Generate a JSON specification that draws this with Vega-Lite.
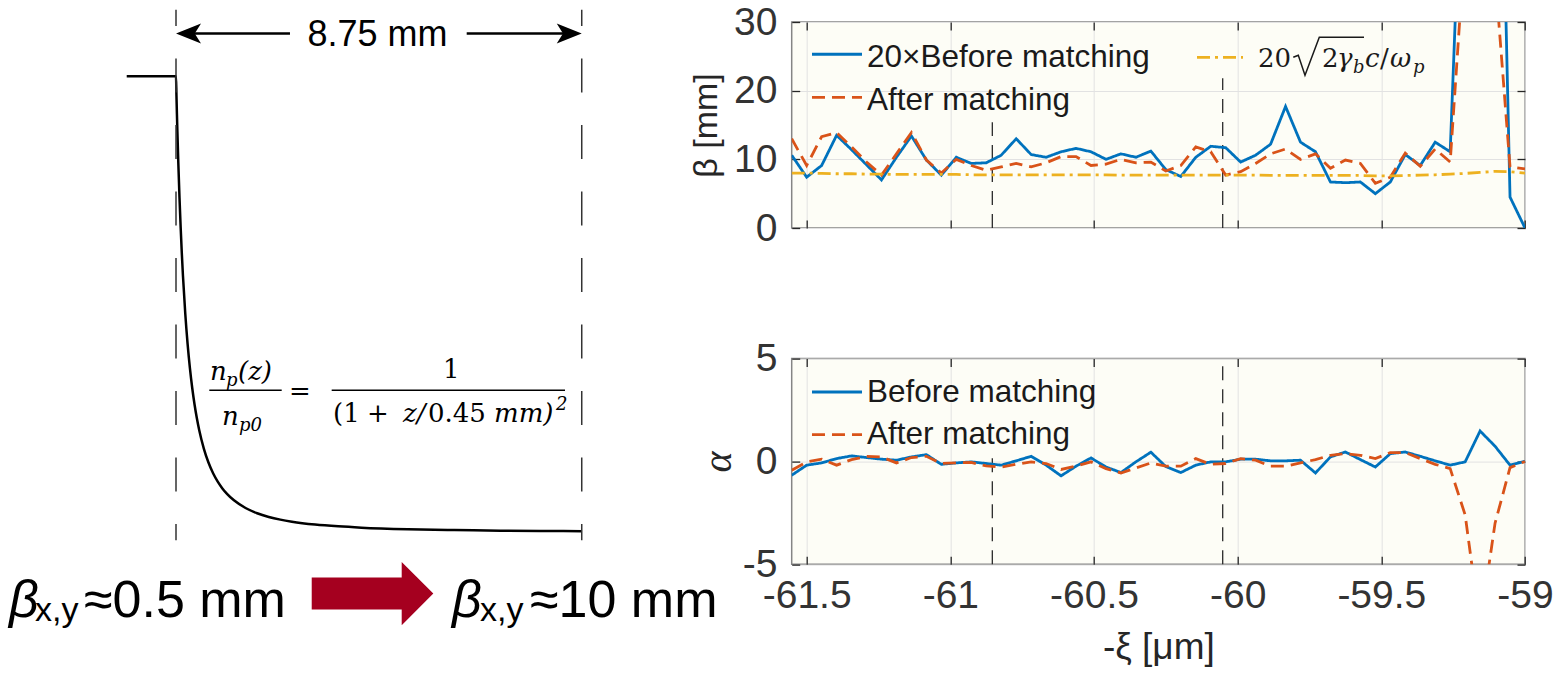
{
  "$schema": "https://vega.github.io/schema/vega-lite/v6.json",
  "padding": {"left": 0, "top": 2, "right": 0, "bottom": 0},
  "background": "white",
  "bounds": "flush",
  "spacing": 51.7,
  "hconcat": [
    {
      "width": 740,
      "height": 620,
      "view": {"stroke": null, "fill": null},
      "encoding": {
        "x": {"field": "z", "type": "quantitative", "scale": {"domain": [-3.7956, 12.163], "nice": false, "zero": false}, "axis": null},
        "y": {"field": "n", "type": "quantitative", "scale": {"domain": [-0.24057, 1.11908], "nice": false, "zero": false}, "axis": null}
      },
      "layer": [
        {
          "data": {"values": [
            {"z": -1.063, "n": 1}, {"z": 0, "n": 1}, {"z": 0.01, "n": 0.957}, {"z": 0.02, "n": 0.9167}, {"z": 0.03, "n": 0.8789},
            {"z": 0.05, "n": 0.81}, {"z": 0.075, "n": 0.7347}, {"z": 0.1, "n": 0.6694}, {"z": 0.125, "n": 0.6125}, {"z": 0.15, "n": 0.5625}, {"z": 0.2, "n": 0.4793},
            {"z": 0.25, "n": 0.4133}, {"z": 0.3, "n": 0.36}, {"z": 0.35, "n": 0.3164}, {"z": 0.4, "n": 0.2803}, {"z": 0.45, "n": 0.25}, {"z": 0.5, "n": 0.2244},
            {"z": 0.6, "n": 0.1837}, {"z": 0.7, "n": 0.1531}, {"z": 0.8, "n": 0.1296}, {"z": 0.9, "n": 0.1111}, {"z": 1.0, "n": 0.0963}, {"z": 1.1, "n": 0.0843},
            {"z": 1.25, "n": 0.0701}, {"z": 1.5, "n": 0.0533}, {"z": 1.75, "n": 0.0418}, {"z": 2.0, "n": 0.0337}, {"z": 2.25, "n": 0.0278}, {"z": 2.5, "n": 0.0233},
            {"z": 3.0, "n": 0.017}, {"z": 3.5, "n": 0.013}, {"z": 4.0, "n": 0.0102}, {"z": 5.0, "n": 0.0068}, {"z": 6.0, "n": 0.0049},
            {"z": 7.0, "n": 0.0036}, {"z": 8.0, "n": 0.0028}, {"z": 8.75, "n": 0.0024}
          ]},
          "mark": {"type": "line", "color": "#000000", "strokeWidth": 2.5, "interpolate": "monotone"}
        },
        {
          "data": {"values": [{"z": 0, "n": 1.146, "n2": -0.0175}, {"z": 8.75, "n": 1.146, "n2": -0.0175}]},
          "mark": {"type": "rule", "color": "#333333", "strokeWidth": 1.5, "strokeDash": [34, 32.5], "strokeDashOffset": 17.8},
          "encoding": {"y2": {"field": "n2"}}
        },
        {
          "data": {"values": [{"z": 0.3, "z2": 2.458, "n": 1.0937}, {"z": 6.269, "z2": 8.45, "n": 1.0937}]},
          "mark": {"type": "rule", "color": "#000000", "strokeWidth": 2.5},
          "encoding": {"x2": {"field": "z2"}}
        },
        {
          "data": {"values": [{"z": 0, "n": 1.0937, "dir": "left"}, {"z": 8.75, "n": 1.0937, "dir": "right"}]},
          "mark": {"type": "point", "filled": true, "color": "#000000", "size": 625, "opacity": 1},
          "encoding": {"shape": {"field": "dir", "type": "nominal", "scale": {"domain": ["left", "right"], "range": ["M0,0L2,-0.8L1.5,0L2,0.8Z", "M0,0L-2,-0.8L-1.5,0L-2,0.8Z"]}, "legend": null}}
        },
        {
          "data": {"values": [{"z": 4.345, "n": 1.0658, "t": "8.75 mm"}]},
          "mark": {"type": "text", "font": "Liberation Sans", "fontSize": 36, "align": "center", "baseline": "alphabetic", "color": "#000000"},
          "encoding": {"text": {"field": "t"}}
        },
        {
          "data": {"values": [
            {"z": 0.7332, "n": 0.3333, "t": "n"}, {"z": 1.3371, "n": 0.3333, "t": "(z)"},
            {"z": 0.992, "n": 0.2346, "t": "n"}, {"z": 4.8954, "n": 0.2412, "t": "z/"}, {"z": 6.8579, "n": 0.2412, "t": "mm)"}
          ]},
          "mark": {"type": "text", "font": "DejaVu Serif", "fontStyle": "italic", "fontSize": 26, "align": "left", "baseline": "alphabetic", "color": "#000000"},
          "encoding": {"text": {"field": "t"}}
        },
        {
          "data": {"values": [
            {"z": 2.4369, "n": 0.2895, "t": "="}, {"z": 5.758, "n": 0.3377, "t": "1"},
            {"z": 3.3858, "n": 0.2412, "t": "(1"}, {"z": 4.119, "n": 0.2412, "t": "+"}, {"z": 5.4345, "n": 0.2412, "t": "0.45"}
          ]},
          "mark": {"type": "text", "font": "DejaVu Serif", "fontSize": 26, "align": "left", "baseline": "alphabetic", "color": "#000000"},
          "encoding": {"text": {"field": "t"}}
        },
        {
          "data": {"values": [
            {"z": 1.0783, "n": 0.3202, "t": "p"}, {"z": 1.3586, "n": 0.2215, "t": "p0"}, {"z": 8.1949, "n": 0.2675, "t": "2"}
          ]},
          "mark": {"type": "text", "font": "DejaVu Serif", "fontStyle": "italic", "fontSize": 18, "align": "left", "baseline": "alphabetic", "color": "#000000"},
          "encoding": {"text": {"field": "t"}}
        },
        {
          "data": {"values": [{"z": 0.7181, "z2": 2.2795, "n": 0.3114}, {"z": 3.3573, "z2": 8.3891, "n": 0.3114}]},
          "mark": {"type": "rule", "color": "#000000", "strokeWidth": 1.5},
          "encoding": {"x2": {"field": "z2"}}
        },
        {
          "data": {"values": [{"z": -3.601, "n": -0.1864, "t": "β"}, {"z": 5.952, "n": -0.1864, "t": "β"}]},
          "mark": {"type": "text", "font": "Liberation Sans", "fontStyle": "italic", "fontSize": 52, "align": "left", "baseline": "alphabetic", "color": "#000000"},
          "encoding": {"text": {"field": "t"}}
        },
        {
          "data": {"values": [{"z": -3.041, "n": -0.1952, "t": "x,y"}, {"z": 6.556, "n": -0.1952, "t": "x,y"}]},
          "mark": {"type": "text", "font": "Liberation Sans", "fontSize": 34, "align": "left", "baseline": "alphabetic", "color": "#000000"},
          "encoding": {"text": {"field": "t"}}
        },
        {
          "data": {"values": [{"z": -1.984, "n": -0.1864, "t": "≈0.5 mm"}, {"z": 7.634, "n": -0.1864, "t": "≈10 mm"}]},
          "mark": {"type": "text", "font": "Liberation Sans", "fontSize": 52, "align": "left", "baseline": "alphabetic", "color": "#000000"},
          "encoding": {"text": {"field": "t"}}
        },
        {
          "data": {"values": [{"z": 4.238, "n": -0.1344}]},
          "mark": {"type": "point", "filled": true, "color": "#a5001f", "opacity": 1, "size": 14787, "shape": "M-1,-0.263L0.48,-0.263L0.48,-0.52L1,0L0.48,0.52L0.48,0.263L-1,0.263Z"}
        }
      ]
    },
    {
      "vconcat": [
        {
          "width": 733.3,
          "height": 206,
          "encoding": {
            "x": {"field": "x", "type": "quantitative", "scale": {"domain": [-61.5521, -59], "nice": false, "zero": false}, "axis": null},
            "y": {"field": "v", "type": "quantitative", "scale": {"domain": [0, 30], "nice": false, "zero": false}, "axis": null}
          },
          "layer": [
            {
              "data": {"values": [{"x": -60.8539, "v": 0, "v2": 15.39}, {"x": -60.0521, "v": 0, "v2": 21.8}]},
              "mark": {"type": "rule", "color": "#2a2a2a", "strokeWidth": 1.3, "strokeDash": [14, 9]},
              "encoding": {"y2": {"field": "v2"}}
            },
            {
              "data": {"values": [
                {"x": -61.5521, "Before": 10.6, "After": 13.0, "Ref": 8.0},
                {"x": -61.5, "Before": 7.4, "After": 9.1, "Ref": 8.0},
                {"x": -61.4479, "Before": 9.1, "After": 13.3, "Ref": 7.95},
                {"x": -61.3958, "Before": 13.5, "After": 13.9, "Ref": 7.9},
                {"x": -61.3438, "Before": 11.4, "After": 11.8, "Ref": 7.9},
                {"x": -61.2917, "Before": 9.2, "After": 9.6, "Ref": 7.85},
                {"x": -61.2396, "Before": 7.0, "After": 7.7, "Ref": 7.85},
                {"x": -61.1875, "Before": 10.3, "After": 10.8, "Ref": 7.8},
                {"x": -61.1354, "Before": 13.4, "After": 13.9, "Ref": 7.8},
                {"x": -61.0833, "Before": 9.9, "After": 9.9, "Ref": 7.8},
                {"x": -61.0313, "Before": 7.7, "After": 8.0, "Ref": 7.8},
                {"x": -60.9792, "Before": 10.3, "After": 10.0, "Ref": 7.8},
                {"x": -60.9271, "Before": 9.4, "After": 9.1, "Ref": 7.75},
                {"x": -60.875, "Before": 9.5, "After": 8.4, "Ref": 7.75},
                {"x": -60.8229, "Before": 10.6, "After": 8.9, "Ref": 7.75},
                {"x": -60.7708, "Before": 13.0, "After": 9.4, "Ref": 7.75},
                {"x": -60.7188, "Before": 10.7, "After": 8.9, "Ref": 7.75},
                {"x": -60.6667, "Before": 10.3, "After": 9.5, "Ref": 7.75},
                {"x": -60.6146, "Before": 11.1, "After": 10.4, "Ref": 7.75},
                {"x": -60.5625, "Before": 11.6, "After": 10.4, "Ref": 7.75},
                {"x": -60.5104, "Before": 11.1, "After": 9.1, "Ref": 7.75},
                {"x": -60.4583, "Before": 10.0, "After": 9.3, "Ref": 7.75},
                {"x": -60.4063, "Before": 10.8, "After": 10.0, "Ref": 7.7},
                {"x": -60.3542, "Before": 10.3, "After": 9.5, "Ref": 7.7},
                {"x": -60.3021, "Before": 11.2, "After": 9.6, "Ref": 7.7},
                {"x": -60.25, "Before": 8.5, "After": 8.3, "Ref": 7.7},
                {"x": -60.1979, "Before": 7.5, "After": 9.1, "Ref": 7.7},
                {"x": -60.1458, "Before": 10.3, "After": 11.8, "Ref": 7.7},
                {"x": -60.0938, "Before": 11.9, "After": 11.1, "Ref": 7.7},
                {"x": -60.0417, "Before": 11.7, "After": 7.7, "Ref": 7.7},
                {"x": -59.9896, "Before": 9.6, "After": 8.2, "Ref": 7.7},
                {"x": -59.9375, "Before": 10.6, "After": 9.4, "Ref": 7.7},
                {"x": -59.8854, "Before": 12.2, "After": 10.8, "Ref": 7.65},
                {"x": -59.8333, "Before": 17.7, "After": 11.5, "Ref": 7.65},
                {"x": -59.7813, "Before": 12.5, "After": 10.0, "Ref": 7.65},
                {"x": -59.7292, "Before": 11.1, "After": 10.8, "Ref": 7.65},
                {"x": -59.6771, "Before": 6.7, "After": 8.7, "Ref": 7.65},
                {"x": -59.625, "Before": 6.6, "After": 9.9, "Ref": 7.65},
                {"x": -59.5729, "Before": 6.7, "After": 9.4, "Ref": 7.65},
                {"x": -59.5208, "Before": 5.0, "After": 6.5, "Ref": 7.6},
                {"x": -59.4688, "Before": 6.7, "After": 7.4, "Ref": 7.6},
                {"x": -59.4167, "Before": 10.7, "After": 10.9, "Ref": 7.65},
                {"x": -59.3646, "Before": 9.1, "After": 9.0, "Ref": 7.7},
                {"x": -59.3125, "Before": 12.5, "After": 11.5, "Ref": 7.75},
                {"x": -59.2604, "Before": 11.1, "After": 9.6, "Ref": 7.85},
                {"x": -59.2083, "Before": 68, "After": 42, "Ref": 7.95},
                {"x": -59.1563, "Before": 130, "After": 60, "Ref": 8.1},
                {"x": -59.1042, "Before": 100, "After": 37, "Ref": 8.25},
                {"x": -59.0521, "Before": 4.5, "After": 8.9, "Ref": 8.2},
                {"x": -59.0, "Before": 0, "After": 8.6, "Ref": 8.0}
              ]},
              "transform": [{"fold": ["Before", "After", "Ref"], "as": ["key", "v"]}],
              "mark": {"type": "line", "clip": true, "strokeWidth": 2.8},
              "encoding": {
                "x": {"field": "x", "type": "quantitative", "scale": {"domain": [-61.5521, -59], "nice": false, "zero": false},
                  "axis": {"orient": "bottom", "values": [-61.5, -61, -60.5, -60, -59.5, -59], "labels": false, "grid": true, "gridColor": "#e2e2e2", "gridWidth": 1, "title": null}},
                "y": {"field": "v", "type": "quantitative", "scale": {"domain": [0, 30], "nice": false, "zero": false},
                  "axis": {"orient": "left", "values": [0, 10, 20, 30], "grid": true, "gridColor": "#e2e2e2", "gridWidth": 1, "labelPadding": 22.7, "labelExpr": "'' + datum.value", "title": "β [mm]", "titlePadding": 10}},
                "color": {"field": "key", "type": "nominal", "scale": {"domain": ["Before", "After", "Ref"], "range": ["#0072BD", "#D95319", "#EDB120"]}, "legend": null},
                "strokeDash": {"field": "key", "type": "nominal", "scale": {"domain": ["Before", "After", "Ref"], "range": [[1, 0], [13, 7], [13, 5, 3, 5]]}, "legend": null}
              }
            },
            {
              "data": {"values": [
                {"x": -61.4815, "x2": -61.3074, "v": 25.3, "key": "Before"},
                {"x": -61.4815, "x2": -61.3074, "v": 19.03, "key": "After"},
                {"x": -60.1415, "x2": -59.9814, "v": 24.86, "key": "Ref"}
              ]},
              "mark": {"type": "rule", "strokeWidth": 2.8},
              "encoding": {
                "x2": {"field": "x2"},
                "color": {"field": "key", "type": "nominal", "scale": {"domain": ["Before", "After", "Ref"], "range": ["#0072BD", "#D95319", "#EDB120"]}, "legend": null},
                "strokeDash": {"field": "key", "type": "nominal", "scale": {"domain": ["Before", "After", "Ref"], "range": [[1, 0], [13, 7], [13, 5, 3, 5]]}, "legend": null}
              }
            },
            {
              "data": {"values": [
                {"x": -61.29, "v": 23.4, "t": "20×Before matching"},
                {"x": -61.29, "v": 17.14, "t": "After matching"}
              ]},
              "mark": {"type": "text", "font": "Liberation Sans", "fontSize": 31.5, "align": "left", "baseline": "alphabetic", "color": "#1a1a1a"},
              "encoding": {
                "text": {"field": "t"},
                "x": {"field": "x", "type": "quantitative", "scale": {"domain": [-61.5521, -59], "nice": false, "zero": false},
                  "axis": {"orient": "top", "values": [-61.5, -61, -60.5, -60, -59.5, -59], "labels": false, "grid": false, "title": null}},
                "y": {"field": "v", "type": "quantitative", "scale": {"domain": [0, 30], "nice": false, "zero": false},
                  "axis": {"orient": "right", "values": [0, 10, 20, 30], "labels": false, "grid": false, "title": null}}
              }
            },
            {
              "data": {"values": [
                {"x": -59.9292, "v": 23.4, "t": "20"}, {"x": -59.7065, "v": 23.4, "t": "2"}, {"x": -59.5046, "v": 23.4, "t": "/"}
              ]},
              "mark": {"type": "text", "font": "DejaVu Serif", "fontSize": 26, "align": "left", "baseline": "alphabetic", "color": "#1a1a1a"},
              "encoding": {"text": {"field": "t"}}
            },
            {
              "data": {"values": [
                {"x": -59.6543, "v": 23.4, "t": "γ"}, {"x": -59.5568, "v": 23.4, "t": "c"}, {"x": -59.4698, "v": 23.4, "t": "ω"}
              ]},
              "mark": {"type": "text", "font": "DejaVu Serif", "fontStyle": "italic", "fontSize": 26, "align": "left", "baseline": "alphabetic", "color": "#1a1a1a"},
              "encoding": {"text": {"field": "t"}}
            },
            {
              "data": {"values": [
                {"x": -59.5986, "v": 22.53, "t": "b"}, {"x": -59.3898, "v": 22.53, "t": "p"}
              ]},
              "mark": {"type": "text", "font": "DejaVu Serif", "fontStyle": "italic", "fontSize": 18, "align": "left", "baseline": "alphabetic", "color": "#1a1a1a"},
              "encoding": {"text": {"field": "t"}}
            },
            {
              "data": {"values": [
                {"x": -59.8064, "v": 24.86}, {"x": -59.789, "v": 25.16}, {"x": -59.7657, "v": 22.24}, {"x": -59.7159, "v": 27.78}, {"x": -59.5603, "v": 27.78}
              ]},
              "mark": {"type": "line", "color": "#1a1a1a", "strokeWidth": 1.5}
            }
          ],
          "resolve": {"axis": {"x": "independent", "y": "independent"}}
        },
        {
          "width": 733.3,
          "height": 205.7,
          "encoding": {
            "x": {"field": "x", "type": "quantitative", "scale": {"domain": [-61.5521, -59], "nice": false, "zero": false}, "axis": null},
            "y": {"field": "v", "type": "quantitative", "scale": {"domain": [-5, 5], "nice": false, "zero": false}, "axis": null}
          },
          "layer": [
            {
              "data": {"values": [{"x": -60.8539, "v": -5, "v2": 0.4}, {"x": -60.0521, "v": -5, "v2": 5}]},
              "mark": {"type": "rule", "color": "#2a2a2a", "strokeWidth": 1.3, "strokeDash": [14, 9]},
              "encoding": {"y2": {"field": "v2"}}
            },
            {
              "data": {"values": [
                {"x": -61.5521, "Before": -0.67, "After": -0.43},
                {"x": -61.5, "Before": -0.18, "After": -0.02},
                {"x": -61.4479, "Before": -0.07, "After": 0.11},
                {"x": -61.3958, "Before": 0.14, "After": -0.18},
                {"x": -61.3438, "Before": 0.27, "After": 0.09},
                {"x": -61.2917, "Before": 0.19, "After": 0.25},
                {"x": -61.2396, "Before": 0.11, "After": 0.22},
                {"x": -61.1875, "Before": 0.06, "After": -0.07},
                {"x": -61.1354, "Before": 0.22, "After": 0.19},
                {"x": -61.0833, "Before": 0.33, "After": 0.25},
                {"x": -61.0313, "Before": -0.14, "After": -0.1},
                {"x": -60.9792, "Before": -0.07, "After": -0.07},
                {"x": -60.9271, "Before": -0.02, "After": -0.05},
                {"x": -60.875, "Before": -0.1, "After": -0.22},
                {"x": -60.8229, "Before": -0.18, "After": -0.27},
                {"x": -60.7708, "Before": 0.03, "After": -0.14},
                {"x": -60.7188, "Before": 0.25, "After": -0.02},
                {"x": -60.6667, "Before": -0.18, "After": -0.1},
                {"x": -60.6146, "Before": -0.7, "After": -0.39},
                {"x": -60.5625, "Before": -0.23, "After": -0.23},
                {"x": -60.5104, "Before": 0.17, "After": -0.02},
                {"x": -60.4583, "Before": -0.27, "After": -0.35},
                {"x": -60.4063, "Before": -0.54, "After": -0.56},
                {"x": -60.3542, "Before": -0.02, "After": -0.32},
                {"x": -60.3021, "Before": 0.45, "After": -0.07},
                {"x": -60.25, "Before": -0.25, "After": -0.23},
                {"x": -60.1979, "Before": -0.54, "After": -0.23},
                {"x": -60.1458, "Before": -0.18, "After": 0.14},
                {"x": -60.0938, "Before": -0.02, "After": -0.14},
                {"x": -60.0417, "Before": -0.02, "After": -0.1},
                {"x": -59.9896, "Before": 0.11, "After": 0.14},
                {"x": -59.9375, "Before": 0.11, "After": 0.06},
                {"x": -59.8854, "Before": 0.03, "After": -0.23},
                {"x": -59.8333, "Before": 0.03, "After": -0.23},
                {"x": -59.7813, "Before": 0.06, "After": -0.07},
                {"x": -59.7292, "Before": -0.56, "After": 0.09},
                {"x": -59.6771, "Before": 0.22, "After": 0.3},
                {"x": -59.625, "Before": 0.46, "After": 0.38},
                {"x": -59.5729, "Before": 0.09, "After": 0.3},
                {"x": -59.5208, "Before": -0.27, "After": 0.14},
                {"x": -59.4688, "Before": 0.38, "After": 0.43},
                {"x": -59.4167, "Before": 0.46, "After": 0.43},
                {"x": -59.3646, "Before": 0.25, "After": 0.14},
                {"x": -59.3125, "Before": 0.03, "After": -0.14},
                {"x": -59.2604, "Before": -0.18, "After": -0.35},
                {"x": -59.2083, "Before": -0.02, "After": -2.6},
                {"x": -59.1563, "Before": 1.48, "After": -8.0},
                {"x": -59.1042, "Before": 0.74, "After": -3.0},
                {"x": -59.0521, "Before": -0.18, "After": -0.3},
                {"x": -59.0, "Before": 0.01, "After": 0.0}
              ]},
              "transform": [{"fold": ["Before", "After"], "as": ["key", "v"]}],
              "mark": {"type": "line", "clip": true, "strokeWidth": 2.8},
              "encoding": {
                "x": {"field": "x", "type": "quantitative", "scale": {"domain": [-61.5521, -59], "nice": false, "zero": false},
                  "axis": {"orient": "bottom", "values": [-61.5, -61, -60.5, -60, -59.5, -59], "grid": true, "gridColor": "#e2e2e2", "gridWidth": 1, "labelPadding": 20.2, "labelExpr": "'' + datum.value", "title": "-ξ [μm]", "titleFontSize": 37, "titlePadding": 14}},
                "y": {"field": "v", "type": "quantitative", "scale": {"domain": [-5, 5], "nice": false, "zero": false},
                  "axis": {"orient": "left", "values": [-5, 0, 5], "grid": true, "gridColor": "#e2e2e2", "gridWidth": 1, "labelPadding": 22.7, "labelExpr": "'' + datum.value", "title": "α", "titleFont": "Liberation Serif", "titleFontStyle": "italic", "titleFontSize": 40, "titlePadding": 4}},
                "color": {"field": "key", "type": "nominal", "scale": {"domain": ["Before", "After", "Ref"], "range": ["#0072BD", "#D95319", "#EDB120"]}, "legend": null},
                "strokeDash": {"field": "key", "type": "nominal", "scale": {"domain": ["Before", "After", "Ref"], "range": [[1, 0], [13, 7], [13, 5, 3, 5]]}, "legend": null}
              }
            },
            {
              "data": {"values": [
                {"x": -61.4815, "x2": -61.3074, "v": 3.376, "key": "Before"},
                {"x": -61.4815, "x2": -61.3074, "v": 1.305, "key": "After"}
              ]},
              "mark": {"type": "rule", "strokeWidth": 2.8},
              "encoding": {
                "x2": {"field": "x2"},
                "color": {"field": "key", "type": "nominal", "scale": {"domain": ["Before", "After", "Ref"], "range": ["#0072BD", "#D95319", "#EDB120"]}, "legend": null},
                "strokeDash": {"field": "key", "type": "nominal", "scale": {"domain": ["Before", "After", "Ref"], "range": [[1, 0], [13, 7], [13, 5, 3, 5]]}, "legend": null}
              }
            },
            {
              "data": {"values": [
                {"x": -61.29, "v": 2.89, "t": "Before matching"},
                {"x": -61.29, "v": 0.868, "t": "After matching"}
              ]},
              "mark": {"type": "text", "font": "Liberation Sans", "fontSize": 31.5, "align": "left", "baseline": "alphabetic", "color": "#1a1a1a"},
              "encoding": {
                "text": {"field": "t"},
                "x": {"field": "x", "type": "quantitative", "scale": {"domain": [-61.5521, -59], "nice": false, "zero": false},
                  "axis": {"orient": "top", "values": [-61.5, -61, -60.5, -60, -59.5, -59], "labels": false, "grid": false, "title": null}},
                "y": {"field": "v", "type": "quantitative", "scale": {"domain": [-5, 5], "nice": false, "zero": false},
                  "axis": {"orient": "right", "values": [-5, 0, 5], "labels": false, "grid": false, "title": null}}
              }
            }
          ],
          "resolve": {"axis": {"x": "independent", "y": "independent"}}
        }
      ],
      "spacing": 130.6,
      "bounds": "flush"
    }
  ],
  "config": {
    "font": "Liberation Sans",
    "view": {"stroke": "#858585", "strokeWidth": 1.5, "fill": "#fdfdf6"},
    "axis": {
      "domain": false,
      "tickSize": -8,
      "tickColor": "#262626",
      "tickWidth": 1.3,
      "grid": false,
      "labelFont": "Liberation Sans",
      "labelFontSize": 39,
      "labelColor": "#333333",
      "labelFlush": false,
      "labelOverlap": false,
      "labelBound": false,
      "labelPadding": 22.7,
      "titleFont": "Liberation Sans",
      "titleFontSize": 34,
      "titleFontWeight": "normal",
      "titleColor": "#262626"
    }
  }
}
